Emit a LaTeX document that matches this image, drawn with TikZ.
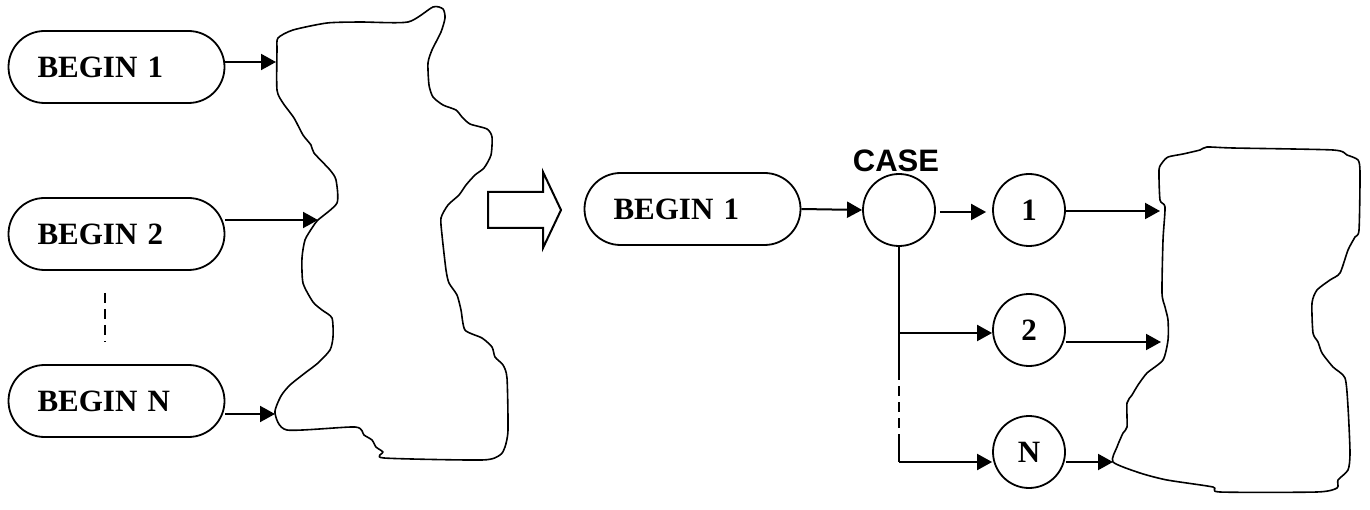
\documentclass[tikz,border=0pt]{standalone}
\usepackage{fontspec}
\setmainfont{Liberation Serif}
\newfontfamily\labelsans{Liberation Sans}
\usetikzlibrary{arrows.meta,calc}
\begin{document}
\begin{tikzpicture}[x=1pt,y=-1pt,
  every node/.style={font=\fontsize{31}{31}\selectfont\bfseries},
  beginbox/.style={draw, line width=1.8pt, rounded corners=36pt,
    minimum height=72pt, text width=158pt, align=left,
    inner xsep=29pt, inner ysep=0pt},
  casecirc/.style={draw, circle, line width=1.8pt, minimum size=72pt, inner sep=0pt},
  link/.style={line width=2pt},
  flow/.style={link, -{Triangle[length=15pt,width=16pt]}},
  dots/.style={link, dash pattern=on 10pt off 6pt},
  blob/.style={line width=1.6pt, line join=round}]

\useasboundingbox (0,0) rectangle (1370,510);

% ---- left: several BEGIN blocks entering one region ----
\node[beginbox] (b1) at (116.5,67)  {BEGIN 1};
\node[beginbox] (b2) at (116.5,234) {BEGIN 2};
\node[beginbox] (bN) at (116.5,401) {BEGIN N};

\draw[blob] plot[smooth cycle, tension=0.4] coordinates {
  (278,38) (293,30) (327,23) (360,22) (408,22) (433,7) (443,9) (445,18)
  (441,32) (432,50) (428,63) (429,85) (433,97) (443,105) (456,110)
  (462,117) (470,124) (487,129) (492,137) (491,155) (484,168) (475,175)
  (466,185) (459,195) (448,205) (441,218) (442,235) (446,270) (449,283)
  (457,295) (461,310) (465,330) (482,338) (492,347) (495,357) (503,365)
  (507,378) (508,430) (505,447) (500,455) (482,460) (384,458) (383,452)
  (376,447) (372,440) (364,435) (355,427) (287,430) (275,413) (281,396)
  (290,385) (305,373) (318,363) (330,350) (333,337) (332,318) (322,310)
  (313,302) (303,283) (302,258) (305,240) (312,228) (318,220) (337,203)
  (336,180) (330,170) (314,153) (311,145) (303,135) (294,118) (283,103)
  (277,90) (277,50)};

\coordinate (t1) at (276,62);
\coordinate (t2) at (318,220);
\coordinate (tN) at (275,414);

\draw[flow] (b1.east |- t1) -- (t1);
\draw[flow] (b2.east |- t2) -- (t2);
\draw[flow] (bN.east |- tN) -- (tN);

\coordinate (d1) at (105,293);
\coordinate (d2) at (105,342);
\draw[dots] (d1) -- (d2);

% ---- hollow transformation arrow ----
\draw[line width=2pt, line join=miter]
  (488,192) -- (543,192) -- (543,172) -- (561,210) -- (543,248)
  -- (543,228) -- (488,228) -- cycle;

% ---- right: one BEGIN block dispatching through CASE ----
\node[beginbox] (rb) at (692.5,209) {BEGIN 1};
\node[casecirc] (case) at (899,210) {};
\node[font=\labelsans\fontsize{31}{31}\selectfont\bfseries, anchor=base]
  (caselbl) at (896,172) {CASE};

\node[casecirc] (c1) at (1029,210) {1};
\node[casecirc] (c2) at (1029,330) {2};
\node[casecirc] (cN) at (1029,452) {N};

\draw[blob] plot[smooth cycle, tension=0.4] coordinates {
  (1168,157) (1183,154) (1200,150) (1207,147) (1233,148) (1333,150)
  (1347,155) (1358,160) (1360,173) (1359,230) (1355,237) (1348,250)
  (1340,273) (1330,280) (1317,290) (1312,303) (1313,333) (1318,342)
  (1322,353) (1333,367) (1345,378) (1348,407) (1350,453) (1348,470)
  (1338,480) (1337,488) (1317,492) (1220,492) (1213,487) (1167,480)
  (1140,473) (1113,462) (1117,447) (1123,433) (1127,427) (1127,403)
  (1132,395) (1138,385) (1147,373) (1163,360) (1168,340) (1168,320)
  (1165,307) (1162,293) (1163,240) (1165,207) (1160,200) (1159,170)
  (1162,163)};

\coordinate (r1) at (1160,211);
\coordinate (r2) at (1161,342);
\coordinate (rN) at (1113,462);

\draw[flow] (rb.east) -- (case.west);
\draw[flow] ($(case.east)+(4,2)$) -- ($(c1.west)+(-6,2)$);

\coordinate (j2) at (899,333);
\coordinate (j3) at (899,370);
\coordinate (j4) at (899,437);
\coordinate (jN) at (899,462);
\draw[link] (case.south) -- (j3);
\draw[dots] (j3) -- (j4);
\draw[link] (j4) -- (jN);
\draw[flow] (j2) -- (c2.west |- j2);
\draw[flow] (jN) -- (cN.west |- jN);

\draw[flow] (c1.east |- r1) -- (r1);
\draw[flow] (c2.east |- r2) -- (r2);
\draw[flow] (cN.east |- rN) -- (rN);
\end{tikzpicture}
\end{document}
